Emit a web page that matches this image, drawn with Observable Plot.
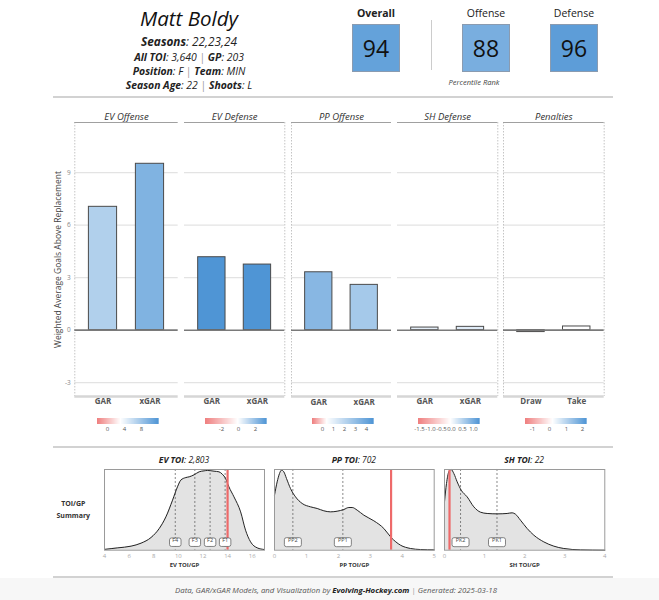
<!DOCTYPE html>
<html><head><meta charset="utf-8">
<script src="https://cdn.jsdelivr.net/npm/d3@7"></script>
<script src="https://cdn.jsdelivr.net/npm/@observablehq/plot@0.6"></script>
<style>
html,body{margin:0;padding:0;background:#fff;}
#root{position:relative;width:659px;height:600px;overflow:hidden;font-family:"Open Sans",sans-serif;background:#fff;}
.abs{position:absolute;}
.ctr{position:absolute;transform:translate(-50%,-50%);white-space:nowrap;line-height:1.05;}
.lg text{font-size:6px;fill:#555;font-family:"Open Sans";}
.lg line{display:none;}
.dens text{font-family:"Open Sans";}
</style></head><body><div id="root"></div>
<script>
// ---------------- DATA ----------------
const playerName = "Matt Boldy";
const infoLabels = [["Seasons"], ["All TOI", "GP"], ["Position", "Team"], ["Season Age", "Shoots"]];
const infoValues = [["22,23,24"], ["3,640", "203"], ["F", "MIN"], ["22", "L"]];
const rankLabels = ["Overall", "Offense", "Defense"];
const rankValues = [94, 88, 96];
const rankNote = "Percentile Rank";

const panelTitles = ["EV Offense", "EV Defense", "PP Offense", "SH Defense", "Penalties"];
const barCategories = [["GAR", "xGAR"], ["GAR", "xGAR"], ["GAR", "xGAR"], ["GAR", "xGAR"], ["Draw", "Take"]];
const evOffense = [7.05, 9.51];
const evDefense = [4.17, 3.75];
const ppOffense = [3.31, 2.59];
const shDefense = [0.15, 0.19];
const penalties = [-0.11, 0.21];
const colorDomains = [[-2.33, 3.1, 12.0], [-3.85, 0, 3.41], [-0.91, 0.4, 4.7], [-1.55, -0.05, 1.31], [-1.44, 0.2, 2.26]];
const legendTicks = [[0, 4, 8], [-2, 0, 2], [0, 1, 2, 3, 4], [-1.5, -1.0, -0.5, 0.0, 0.5, 1.0], [-1, 0, 1, 2]];
const yTicks = [-3, 0, 3, 6, 9];
const yLabel = "Weighted Average Goals Above Replacement";

const densityTitles = ["EV TOI", "PP TOI", "SH TOI"];
const densityTotals = ["2,803", "702", "22"];
const densityAxisLabels = ["EV TOI/GP", "PP TOI/GP", "SH TOI/GP"];
const densityDomains = [[4, 17], [0, 5], [0, 4]];
const densityTicks = [[4, 6, 8, 10, 12, 14, 16], [0, 1, 2, 3, 4, 5], [0, 1, 2, 3, 4]];
const evToiX = [4.0, 5.08, 6.16, 6.97, 7.78, 8.45, 8.99, 9.53, 9.93, 10.2, 10.61, 10.88, 11.28, 11.69, 12.09, 12.36, 12.9, 13.3, 13.57, 13.84, 14.11, 14.52, 15.06, 15.46, 15.87, 16.41, 17.0];
const evToiY = [0.01, 0.029, 0.05, 0.087, 0.157, 0.269, 0.413, 0.62, 0.785, 0.868, 0.9, 0.909, 0.934, 0.971, 0.983, 0.988, 0.979, 0.971, 0.942, 0.888, 0.785, 0.661, 0.475, 0.248, 0.103, 0.029, 0.008];
const ppToiX = [0, 0.084, 0.157, 0.219, 0.292, 0.376, 0.501, 0.658, 0.866, 1.127, 1.336, 1.545, 1.754, 1.962, 2.171, 2.328, 2.432, 2.589, 2.797, 3.111, 3.424, 3.653, 3.946, 4.259, 4.572, 5.0];
const ppToiY = [0.682, 0.847, 0.95, 0.992, 0.971, 0.888, 0.764, 0.661, 0.579, 0.537, 0.517, 0.488, 0.475, 0.483, 0.504, 0.529, 0.529, 0.496, 0.434, 0.364, 0.269, 0.157, 0.062, 0.021, 0.008, 0.004];
const shToiX = [0, 0.05, 0.108, 0.166, 0.233, 0.316, 0.416, 0.565, 0.732, 0.898, 1.064, 1.314, 1.563, 1.688, 1.771, 1.896, 2.062, 2.229, 2.478, 2.728, 2.977, 3.393, 4.0];
const shToiY = [0.6, 0.826, 0.971, 1.0, 0.95, 0.847, 0.744, 0.661, 0.537, 0.471, 0.455, 0.45, 0.455, 0.463, 0.446, 0.372, 0.269, 0.186, 0.103, 0.05, 0.021, 0.004, 0.0];
const lineNames = [["F4", "F3", "F2", "F1"], ["PP2", "PP1"], ["PK2", "PK1"]];
const lineValues = [[9.75, 11.34, 12.58, 13.8], [0.575, 2.14], [0.4, 1.31]];
const playerToi = [14.0, 3.65, 0.125];

const footerText = "Data, GAR/xGAR Models, and Visualization by";
const footerSite = "Evolving-Hockey.com";
const footerDate = "Generated: 2025-03-18";

// ---------------- LAYOUT / STYLE ----------------
const RED = "#EF7F7F", WHITE = "#FFFFFF", BLUE = "#4F95D5";
const root = document.getElementById("root");
function addDiv(html, style, cls) {
  const d = document.createElement("div");
  if (cls) d.className = cls;
  d.style.cssText = style; d.innerHTML = html; root.appendChild(d); return d;
}
function place(node, left, top, cls) {
  const w = document.createElement("div");
  if (cls) w.className = cls;
  w.style.cssText = `position:absolute;left:${left}px;top:${top}px;line-height:0;`;
  w.appendChild(node); root.appendChild(w); return w;
}
function interpFor([lo, mid, hi]) {
  const t0 = (mid - lo) / (hi - lo);
  const a = d3.interpolateRgb(RED, WHITE), b = d3.interpolateRgb(WHITE, BLUE);
  return t => t < t0 ? a(t / t0) : b((t - t0) / (1 - t0));
}

// header
addDiv(playerName, "left:189px;top:18.8px;font-size:20.5px;font-style:italic;color:#111", "ctr");
const infoY = [41, 56.6, 70.8, 85.0];
const infoSize = [11.8, 10.4, 10.4, 10.4];
infoLabels.forEach((labs, i) => {
  const html = labs.map((l, j) => `<b style="font-weight:700">${l}</b>: ${infoValues[i][j]}`).join(' <span style="color:#999;font-style:normal">|</span> ');
  addDiv(html, `left:189px;top:${infoY[i]}px;font-size:${infoSize[i]}px;font-style:italic;color:#222`, "ctr");
});
const rankX = [376, 486, 574];
const rankColor = d3.scaleLinear().domain([0, 50, 100]).range([RED, WHITE, BLUE]);
rankLabels.forEach((l, i) => {
  addDiv(l, `left:${rankX[i]}px;top:14px;font-size:10.5px;color:#222;${i === 0 ? "font-weight:bold;" : ""}`, "ctr");
  addDiv(String(rankValues[i]), `left:${rankX[i] - 24}px;top:24px;width:48px;height:48px;background:${rankColor(rankValues[i])};border:1px solid #8a9bb0;box-sizing:border-box;display:flex;align-items:center;justify-content:center;font-size:23px;color:#111`, "abs");
});
addDiv("", "left:431px;top:20px;width:1px;height:50px;background:#ccc", "abs");
addDiv(rankNote, "left:474px;top:82.5px;font-size:7.5px;font-style:italic;color:#444", "ctr");

// separators
[96, 446, 576].forEach(y => addDiv("", `left:53px;top:${y}px;width:560px;height:2px;background:#d2d2d2`, "abs"));
addDiv("", "left:0;top:578px;width:659px;height:22px;background:#f7f7f7", "abs");

// bar panels
const yDomain = [-3.79, 11.87];
const panelValues = [evOffense, evDefense, ppOffense, shDefense, penalties];
const frameLeft = [74.3, 184, 290.7, 397, 503.3];
const frameWidth = [103.4, 100.3, 100, 100.3, 100.7];
const dottedSides = [[0.4], [2.6], [0.4], [2.6], [0.4, 2.6]];
const ribbonLeft = [97.3, 205.3, 311.7, 418.3, 525];
panelValues.forEach((vals, i) => {
  const data = barCategories[i].map((cat, j) => ({cat, pos: j + 1, value: vals[j]}));
  const colorOpts = {type: "linear", domain: [colorDomains[i][0], colorDomains[i][2]], interpolate: interpFor(colorDomains[i]), clamp: true};
  const ml = i === 0 ? frameLeft[0] : 4, mr = 4;
  const marks = [
    Plot.ruleY(yTicks.filter(d => d !== 0), {stroke: "#e3e3e3", strokeWidth: 1.3}),
    Plot.ruleX(dottedSides[i], {stroke: "#bdbdbd", strokeDasharray: "1.5,1.5", strokeWidth: 0.9}),
    Plot.rectY(data, {x1: d => d.pos - 0.3, x2: d => d.pos + 0.3, y: "value", fill: "value", stroke: "#4a4a4a", strokeWidth: 1}),
    Plot.ruleY([0], {stroke: "#7a7a7a", strokeWidth: 1.6}),
    Plot.ruleY([yDomain[1]], {stroke: "#a0a0a0", strokeWidth: 1.2}),
    Plot.ruleY([yDomain[0]], {stroke: "#d6d6d6", strokeWidth: 2.4}),
    Plot.text(data, {x: "pos", text: "cat", frameAnchor: "bottom", dy: 8, fontWeight: "bold", fontSize: 8, fill: "#555"}),
    Plot.text([panelTitles[i]], {frameAnchor: "top", dy: -9, fontStyle: "italic", fontSize: 9.5, fill: "#333"})
  ];
  if (i === 0) {
    marks.push(Plot.text(yTicks, {y: d => d, text: d => String(d), frameAnchor: "left", dx: -4, textAnchor: "end", fontSize: 6.5, fill: "#888"}));
    marks.push(Plot.text([yLabel], {frameAnchor: "left", dx: -17, rotate: -90, textAnchor: "middle", fontSize: 8.5, fill: "#444"}));
  }
  const chart = Plot.plot({
    width: ml + frameWidth[i] + mr, height: 312,
    marginLeft: ml, marginRight: mr, marginTop: 22, marginBottom: 16,
    x: {domain: [0.4, 2.6], axis: null},
    y: {domain: yDomain, axis: null},
    color: colorOpts,
    style: {fontFamily: "Open Sans", background: "transparent", overflow: "visible"},
    marks
  });
  place(chart, frameLeft[i] - ml, 100);
  const fmt = i === 3 ? (d => d.toFixed(1)) : (d => String(d));
  const legend = Plot.legend({
    color: colorOpts, label: null, width: 61.7 + 20, height: 18,
    marginLeft: 10, marginRight: 10, marginTop: 0, marginBottom: 12,
    tickSize: 0, ticks: legendTicks[i], tickFormat: fmt
  });
  place(legend, ribbonLeft[i] - 10, 418.3, "lg");
});

// density panels
addDiv("<b>TOI/GP</b>", "left:73.3px;top:504.3px;font-size:7px;color:#333", "ctr");
addDiv("<b>Summary</b>", "left:73.3px;top:516px;font-size:7px;color:#333", "ctr");
const densX = [evToiX, ppToiX, shToiX], densY = [evToiY, ppToiY, shToiY];
const densFrameLeft = [104, 274, 444];
const densFrameWidth = [160, 159.7, 160.3];
const wideBox = (w, h, r) => ({draw(ctx) {
  const x0 = -w / 2, y0 = -h / 2, x1 = w / 2, y1 = h / 2;
  ctx.moveTo(x0 + r, y0); ctx.lineTo(x1 - r, y0); ctx.arcTo(x1, y0, x1, y0 + r, r);
  ctx.lineTo(x1, y1 - r); ctx.arcTo(x1, y1, x1 - r, y1, r); ctx.lineTo(x0 + r, y1);
  ctx.arcTo(x0, y1, x0, y1 - r, r); ctx.lineTo(x0, y0 + r); ctx.arcTo(x0, y0, x0 + r, y0, r); ctx.closePath();
}});
densX.forEach((xs, i) => {
  const data = xs.map((x, j) => ({x, y: densY[i][j]}));
  const lines = lineNames[i].map((name, j) => ({name, value: lineValues[i][j]}));
  const box = i === 0 ? wideBox(11.5, 8.5, 2) : wideBox(17, 9, 2);
  const ml = 8, mr = 8;
  const chart = Plot.plot({
    width: ml + densFrameWidth[i] + mr, height: 5 + 80.7 + 22,
    marginLeft: ml, marginRight: mr, marginTop: 5, marginBottom: 22,
    x: {domain: densityDomains[i], ticks: densityTicks[i], tickFormat: d => String(d), tickSize: 0, tickPadding: 4, label: null},
    y: {domain: [0, 1], axis: null},
    style: {fontFamily: "Open Sans", fontSize: "6px", color: "#aaa", background: "transparent", overflow: "visible"},
    marks: [
      Plot.areaY(data, {x: "x", y: "y", fill: "#e3e3e3", curve: "monotone-x"}),
      Plot.ruleX(lines, {x: "value", stroke: "#555", strokeDasharray: "2,2", strokeWidth: 0.7}),
      Plot.lineY(data, {x: "x", y: "y", stroke: "#222", strokeWidth: 1, curve: "monotone-x"}),
      Plot.ruleX([playerToi[i]], {stroke: "#EE6A6A", strokeWidth: 2.2}),
      Plot.frame({stroke: "#9a9a9a", strokeWidth: 1}),
      Plot.dot(lines, {x: "value", frameAnchor: "bottom", dy: -8, symbol: box, fill: "white", stroke: "#666", strokeWidth: 0.8}),
      Plot.text(lines, {x: "value", text: "name", frameAnchor: "bottom", dy: -8, fontSize: 5.5, fill: "#444"}),
      Plot.text([densityAxisLabels[i]], {frameAnchor: "bottom", dy: 16.7, fontWeight: "bold", fontSize: 6, fill: "#333"})
    ]
  });
  place(chart, densFrameLeft[i] - ml, 469.3 - 5, "dens");
  addDiv(`<b>${densityTitles[i]}</b>: ${densityTotals[i]}`, `left:${densFrameLeft[i] + densFrameWidth[i] / 2}px;top:460px;font-size:8.5px;font-style:italic;color:#222`, "ctr");
});

// footer
addDiv(`${footerText} <b style="color:#222">${footerSite}</b> <span style="color:#999;font-style:normal">|</span> ${footerDate}`,
  "left:336px;top:590px;font-size:7.8px;font-style:italic;color:#555", "ctr");
</script></body></html>
